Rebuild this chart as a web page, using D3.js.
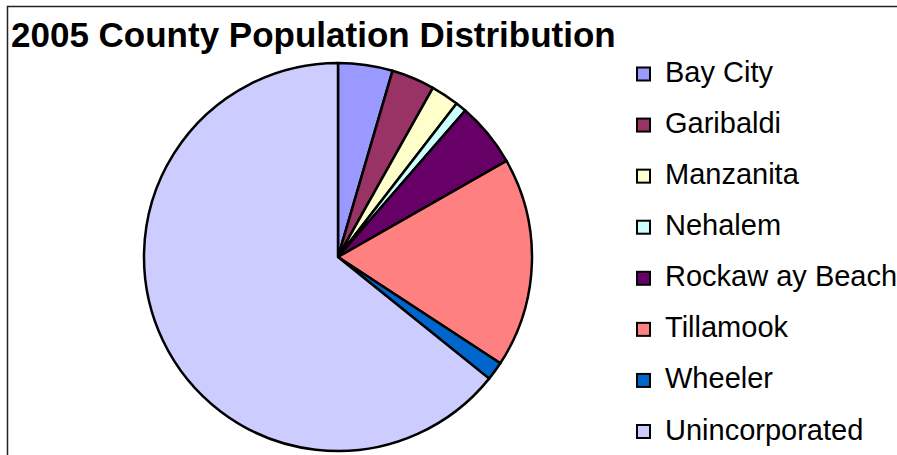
<!DOCTYPE html>
<html>
<head>
<meta charset="utf-8">
<script src="https://cdn.jsdelivr.net/npm/d3@7"></script>
<style>
  body { margin: 0; background: #fff; }
  svg { display: block; font-family: "Liberation Sans", Arial, sans-serif; }
</style>
</head>
<body>
<script>
  // populations (approx)
  var towns = ["Bay City", "Garibaldi", "Manzanita", "Nehalem", "Rockaw ay Beach", "Tillamook", "Wheeler", "Unincorporated"];
  var population = [1165, 925, 600, 235, 1380, 4490, 400, 16500];
  var colours = ["#9999FF", "#993366", "#FFFFCC", "#CCFFFF", "#660066", "#FF8080", "#0066CC", "#CCCCFF"];

  var width = 897, height = 455;

  var svg = d3.select("body").append("svg")
      .attr("width", width)
      .attr("height", height);

  // frame (only top and left show)
  svg.append("path")
      .attr("d", "M7.5," + height + "V6.5H" + width)
      .attr("fill", "none")
      .attr("stroke", "#222")
      .attr("stroke-width", 1.5);

  svg.append("text")
      .attr("x", 11)
      .attr("y", 47)
      .style("font-size", "35px")
      .style("font-weight", "bold")
      .text("2005 County Population Distribution");

  var data = towns.map(function(t, i) { return {name: t, value: population[i], colour: colours[i]}; });

  var pie = d3.pie()
      .sort(null)
      .value(function(d) { return d.value; });

  var arc = d3.arc()
      .innerRadius(0)
      .outerRadius(194);

  var g = svg.append("g")
      .attr("transform", "translate(338,257)");

  g.selectAll("path")
      .data(pie(data))
    .enter().append("path")
      .attr("d", arc)
      .attr("fill", function(d) { return d.data.colour; })
      .attr("stroke", "#000")
      .attr("stroke-width", 2.5)
      .attr("stroke-linejoin", "round");

  // legend
  var y = d3.scalePoint()
      .domain(towns)
      .range([74.5, 432]);

  var legend = svg.selectAll(".legend")
      .data(data)
    .enter().append("g")
      .attr("class", "legend")
      .attr("transform", function(d) { return "translate(637," + y(d.name) + ")"; });

  legend.append("rect")
      .attr("x", 0)
      .attr("y", -7)
      .attr("width", 13)
      .attr("height", 13)
      .attr("fill", function(d) { return d.colour; })
      .attr("stroke", "#000")
      .attr("stroke-width", 2);

  legend.append("text")
      .attr("x", 28)
      .attr("y", 7.5)
      .style("font-size", "29px")
      .text(function(d) { return d.name; });
</script>
</body>
</html>
